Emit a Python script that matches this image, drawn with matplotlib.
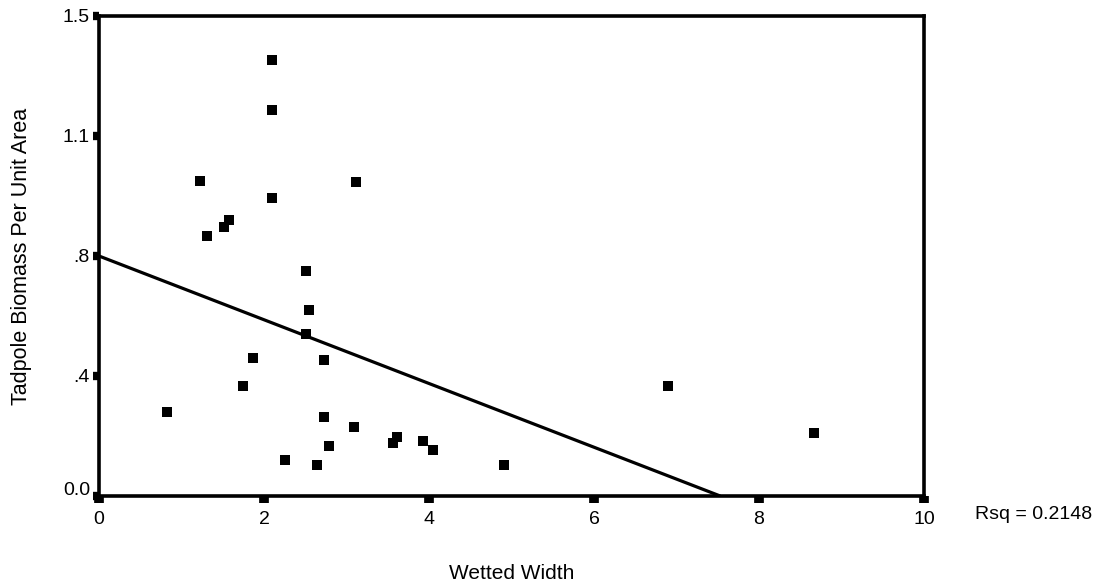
import matplotlib
matplotlib.use("Agg")
import matplotlib.pyplot as plt
import matplotlib.transforms as mtransforms
import numpy as np

plt.rcParams['font.family'] = ['Liberation Sans', 'DejaVu Sans']

# Data
wetted_width = [2.10, 2.10, 1.22, 2.10, 3.12, 1.58, 1.52, 1.31, 2.51, 2.55,
                2.51, 1.87, 2.73, 1.75, 0.82, 2.73, 3.09, 2.79, 2.26, 2.64,
                3.56, 3.61, 3.93, 4.05, 4.91, 6.90, 8.67]
biomass = [1.364, 1.206, 0.985, 0.932, 0.980, 0.863, 0.841, 0.811, 0.704, 0.581,
           0.506, 0.432, 0.425, 0.344, 0.263, 0.246, 0.217, 0.156, 0.113, 0.097,
           0.164, 0.185, 0.172, 0.143, 0.098, 0.344, 0.197]

fit_intercept = 0.75
fit_slope = -0.0996
rsq_text = "Rsq = 0.2148"

x_ticks = [0, 2, 4, 6, 8, 10]
x_tick_labels = ["0", "2", "4", "6", "8", "10"]
y_ticks = [0.0, 0.375, 0.75, 1.125, 1.5]
y_tick_labels = ["0.0", ".4", ".8", "1.1", "1.5"]

fig = plt.figure(figsize=(11.08, 5.88), dpi=100)
ax = fig.add_axes([0.0893, 0.1565, 0.7446, 0.8163])

ax.scatter(wetted_width, biomass, marker='s', s=44, color='black', zorder=3, linewidths=0)

x_end = -fit_intercept / fit_slope
xs = np.array([0.0, x_end])
ax.plot(xs, fit_intercept + fit_slope * xs, color='black', lw=2.3, zorder=2,
        solid_capstyle='butt')

ax.set_xlim(0, 10)
ax.set_ylim(0, 1.5)
ax.set_xticks(x_ticks)
ax.set_xticklabels(x_tick_labels)
ax.set_yticks(y_ticks)
ax.set_yticklabels(y_tick_labels)

for sp in ax.spines.values():
    sp.set_linewidth(2.6)
    sp.set_color('black')

ax.tick_params(axis='x', direction='out', length=5, width=7, labelsize=14, pad=5.5, colors='black')
ax.tick_params(axis='y', direction='out', length=4.5, width=6, labelsize=14, pad=2, colors='black')

# lift the bottom y tick label slightly, as in the reference
lbl0 = ax.get_yticklabels()[0]
lbl0.set_transform(lbl0.get_transform() +
                   mtransforms.ScaledTranslation(0, 7 / 100, fig.dpi_scale_trans))

ax.set_xlabel("Wetted Width", fontsize=15)
ax.xaxis.set_label_coords(0.5, -0.142)
ax.set_ylabel("Tadpole Biomass Per Unit Area", fontsize=15.5, labelpad=22)

fig.text(0.880, 0.125, rsq_text, fontsize=14, ha='left', va='center')

fig.savefig("out.png", dpi=100)
